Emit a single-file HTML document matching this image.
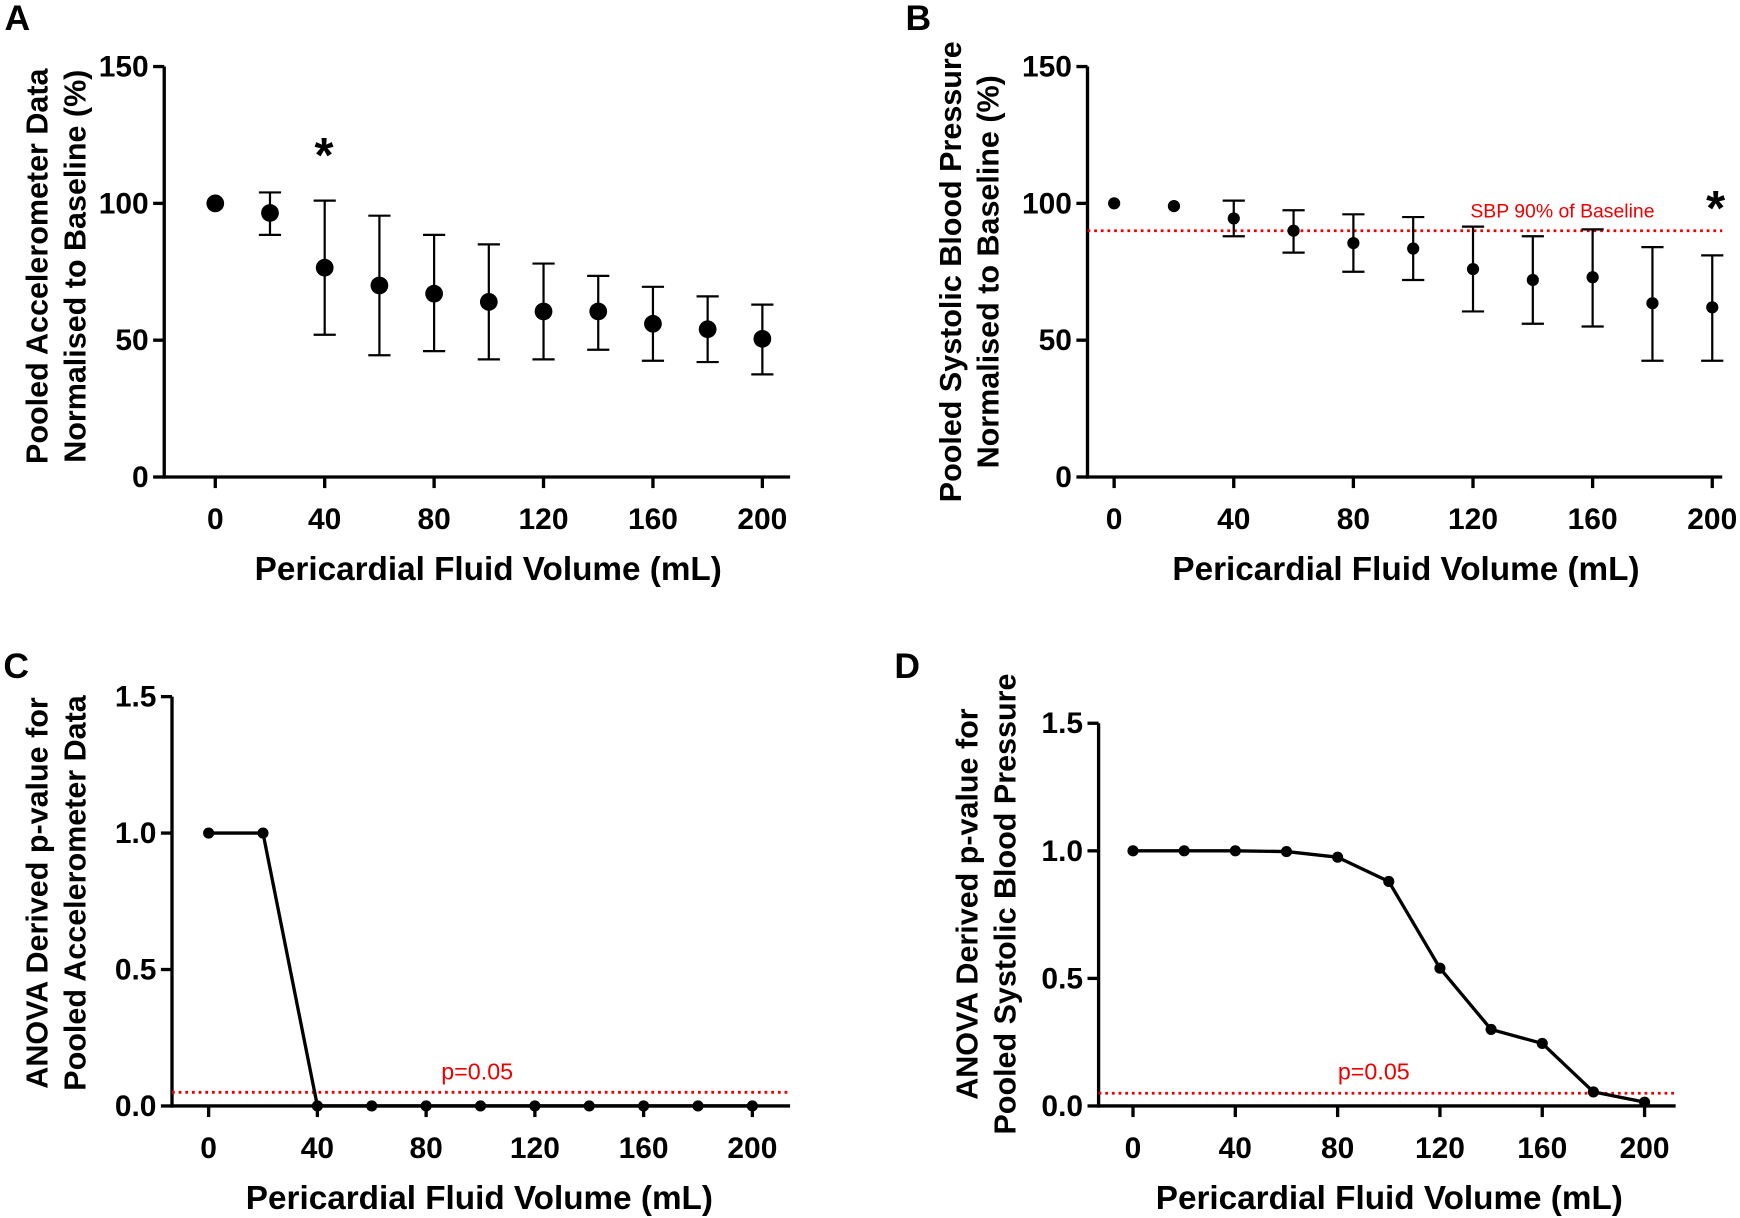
<!DOCTYPE html>
<html><head><meta charset="utf-8"><style>
html,body{margin:0;padding:0;background:#fff;}
svg{display:block;font-family:"Liberation Sans",Arial,sans-serif;}
</style></head><body>
<svg id="fig" width="1740" height="1218" viewBox="0 0 1568 1098" preserveAspectRatio="none" xmlns="http://www.w3.org/2000/svg"></svg>
<script>
const volumes = [0,20,40,60,80,100,120,140,160,180,200];
const xTicks = [0,40,80,120,160,200];
const accelMean = [100,96.5,76.5,70,67,64,60.5,60.5,56,54,50.5];
const accelUpper = [null,104,101,95.5,88.5,85,78,73.5,69.5,66,63];
const accelLower = [null,88.5,52,44.5,46,43,43,46.5,42.5,42,37.5];
const sbpMean = [100,99,94.5,90,85.5,83.5,76,72,73,63.5,62];
const sbpUpper = [null,null,101,97.5,96,95,91.5,88,90.5,84,81];
const sbpLower = [null,null,88,82,75,72,60.5,56,55,42.5,42.5];
const pctTicks = [0,50,100,150];
const pAccel = [1,1,0,0,0,0,0,0,0,0,0];
const pSbp = [1,1,1,0.997,0.975,0.88,0.54,0.30,0.245,0.055,0.015];
const pTicks = [0,0.5,1.0,1.5];
const pTickLabels = ["0.0","0.5","1.0","1.5"];

const NS="http://www.w3.org/2000/svg";
const svg=document.getElementById('fig');
function mk(tag,attrs,parent){const e=document.createElementNS(NS,tag);for(const k in attrs)e.setAttribute(k,attrs[k]);(parent||svg).appendChild(e);return e;}

function panel(c){
  const g=mk('g',{});
  
  
  const sx=v=>c.x0+(v-0)/200*(c.x200-c.x0);
  const sy=v=>c.yb+(v-c.ymin)/(c.ymax-c.ymin)*(c.yt-c.yb);
  const ya=mk('line',{x1:c.ax,y1:c.yt,x2:c.ax,y2:c.yb+1.5,stroke:'#000','stroke-width':3},g);
  
  const xa=mk('line',{x1:c.xaStart,y1:c.yb,x2:c.xaEnd,y2:c.yb,stroke:'#000','stroke-width':3},g);
  
  c.yTicks.forEach((t,i)=>{
    const y=sy(t);
    mk('line',{x1:c.ax-10,y1:y,x2:c.ax,y2:y,stroke:'#000','stroke-width':3},g);
    const tx=mk('text',{x:c.ax-14,y:y+9,'text-anchor':'end','font-size':27,'font-weight':'bold'},g);
    tx.textContent=c.yLabels?c.yLabels[i]:t;
    
  });
  xTicks.forEach(t=>{
    const x=sx(t);
    mk('line',{x1:x,y1:c.yb,x2:x,y2:c.yb+10,stroke:'#000','stroke-width':3},g);
    const tx=mk('text',{x:x,y:c.yb+47,'text-anchor':'middle','font-size':27,'font-weight':'bold'},g);
    tx.textContent=t;
    
  });
  const xt=mk('text',{x:c.xtX,y:c.yb+93,'text-anchor':'middle','font-size':30,'font-weight':'bold'},g);
  xt.textContent='Pericardial Fluid Volume (mL)';
  
  c.yTitle.forEach((s,i)=>{
    const t=mk('text',{x:0,y:0,'text-anchor':'middle','font-size':27.5,'font-weight':'bold',transform:`translate(${c.ytX+i*34},${c.ytY}) rotate(-90)`},g);
    t.textContent=s;
    
  });
  const pl=mk('text',{x:c.lblX,y:c.lblY,'font-size':32,'font-weight':'bold'},g);
  pl.textContent=c.label;
  
  if(c.ref!==undefined){
    const rl=mk('line',{x1:c.refX1,y1:sy(c.ref),x2:c.refX2,y2:sy(c.ref),stroke:'#e00','stroke-width':2.5,'stroke-dasharray':'2.5 3.5'},g);
    
    const rt=mk('text',{x:c.refTX,y:c.refTY,'text-anchor':'middle','font-size':c.refFS,fill:'#e00'},g);
    rt.textContent=c.refText;
    
  }
  if(c.line){
    const d=volumes.map((v,i)=>(i?'L':'M')+sx(v)+' '+sy(c.mean[i])).join(' ');
    const p=mk('path',{d:d,fill:'none',stroke:'#000','stroke-width':3,'stroke-linejoin':'round'},g);
    
  }
  volumes.forEach((v,i)=>{
    const x=sx(v);
    if(c.upper&&c.upper[i]!=null){
      const e=mk('path',{d:`M${x} ${sy(c.upper[i])} L${x} ${sy(c.lower[i])} M${x-10} ${sy(c.upper[i])} L${x+10} ${sy(c.upper[i])} M${x-10} ${sy(c.lower[i])} L${x+10} ${sy(c.lower[i])}`,stroke:'#000','stroke-width':2,fill:'none'},g);
      
    }
    const pt=mk('circle',{cx:x,cy:sy(c.mean[i]),r:c.r,fill:'#000'},g);
    
  });
  if(c.star){
    const s=mk('text',{x:c.star[0],y:c.star[1],'text-anchor':'middle','font-size':44,'font-weight':'bold'},g);
    s.textContent='*';
    
  }
}

panel({name:'panel-a',label:'A',lblX:4,lblY:27,ax:148,yt:60,yb:430,ymin:0,ymax:150,yTicks:pctTicks,
  x0:194,x200:687,xaStart:148,xaEnd:712,xtX:440,
  yTitle:['Pooled Accelerometer Data','Normalised to Baseline (%)'],ytX:43,ytY:240,
  mean:accelMean,upper:accelUpper,lower:accelLower,r:8,star:[292,155]});
panel({name:'panel-b',label:'B',lblX:816,lblY:27,ax:980,yt:60,yb:430,ymin:0,ymax:150,yTicks:pctTicks,
  x0:1004,x200:1543,xaStart:980,xaEnd:1552,xtX:1267,
  yTitle:['Pooled Systolic Blood Pressure','Normalised to Baseline (%)'],ytX:866,ytY:245,
  mean:sbpMean,upper:sbpUpper,lower:sbpLower,r:5.5,star:[1546,203],
  ref:90,refX1:980,refX2:1552,refTX:1408,refTY:196,refText:'SBP 90% of Baseline',refFS:17.5});
panel({name:'panel-c',label:'C',lblX:3,lblY:611,ax:155,yt:628,yb:997,ymin:0,ymax:1.5,yTicks:pTicks,yLabels:pTickLabels,
  x0:188,x200:678,xaStart:155,xaEnd:712,xtX:432,
  yTitle:['ANOVA Derived p-value for','Pooled Accelerometer Data'],ytX:43,ytY:805,
  mean:pAccel,r:5,line:true,
  ref:0.05,refX1:155,refX2:712,refTX:430,refTY:973,refText:'p=0.05',refFS:21});
panel({name:'panel-d',label:'D',lblX:806,lblY:611,ax:990,yt:652,yb:997,ymin:0,ymax:1.5,yTicks:pTicks,yLabels:pTickLabels,
  x0:1021,x200:1482,xaStart:990,xaEnd:1510,xtX:1252,
  yTitle:['ANOVA Derived p-value for','Pooled Systolic Blood Pressure'],ytX:881,ytY:815,
  mean:pSbp,r:5,line:true,
  ref:0.05,refX1:990,refX2:1510,refTX:1238,refTY:973,refText:'p=0.05',refFS:21});
</script>
</body></html>
